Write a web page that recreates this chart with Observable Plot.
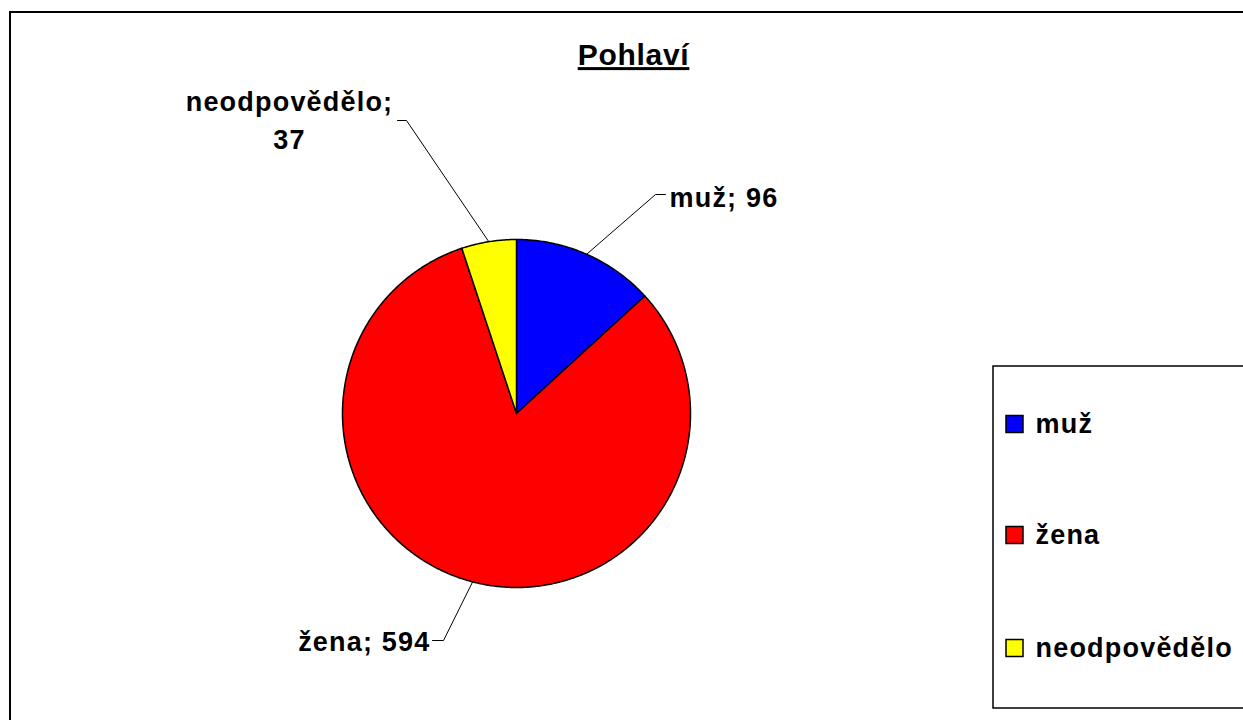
<!DOCTYPE html>
<html><head><meta charset="utf-8">
<script src="https://cdn.jsdelivr.net/npm/d3@7"></script>
<script src="https://cdn.jsdelivr.net/npm/@observablehq/plot@0.6"></script>
<style>html,body{margin:0;padding:0;background:#fff;overflow:hidden}</style>
</head><body><div id="chart"></div>
<script>
// ---- data ----
const title = "Pohlaví";
const categories = ["muž", "žena", "neodpovědělo"];
const counts = [96, 594, 37];
const colors = ["#0000ff", "#ff0000", "#ffff00"];

// ---- layout (pixels) ----
const W = 1243, H = 720;
const FONT = "Arial, 'Liberation Sans', Helvetica, sans-serif";
const pieLayout = {cx: 516, cy: 413, r: 174};
const border = {x1: 10, y1: 12, x2: W + 40, y2: H + 40};
const titlePos = {x: 633, y: 55, size: 30};
const labelLayout = {
  "muž": {elbow: [655, 194], end: [665, 194], text: [669, 194], anchor: "start"},
  "žena": {elbow: [443, 640], end: [432, 640], text: [430, 638], anchor: "end"},
  "neodpovědělo": {elbow: [406, 120], end: [397, 120], text: [289, 117], anchor: "middle"}
};
const legendLayout = {x1: 993, y1: 366, x2: W + 40, y2: 708, swatchX: 1006, size: 17, textX: 1035, rows: [424, 535, 648]};
const LABEL_SIZE = 27;

// ---- derived geometry ----
const data = categories.map((c, i) => ({category: c, value: counts[i]}));
const arcs = d3.pie().sort(null).value(d => d.value)(data);
const polar = (a, rr = pieLayout.r) => [pieLayout.cx + rr * Math.sin(a), pieLayout.cy - rr * Math.cos(a)];

const slicePts = arcs.flatMap(a => {
  const c = a.data.category;
  const n = Math.max(2, Math.ceil((a.endAngle - a.startAngle) / (Math.PI / 360)));
  const pts = [{category: c, x: pieLayout.cx, y: pieLayout.cy}];
  for (let k = 0; k <= n; k++) {
    const t = a.startAngle + (a.endAngle - a.startAngle) * k / n;
    const [x, y] = polar(t);
    pts.push({category: c, x, y});
  }
  return pts;
});

const leaderPts = arcs.flatMap(a => {
  const c = a.data.category, L = labelLayout[c];
  const [mx, my] = polar((a.startAngle + a.endAngle) / 2);
  return [
    {category: c, x: mx, y: my},
    {category: c, x: L.elbow[0], y: L.elbow[1]},
    {category: c, x: L.end[0], y: L.end[1]}
  ];
});

const labelText = d => d.category === "neodpovědělo" ? `${d.category};\n${d.value}` : `${d.category}; ${d.value}`;
const labelMarks = ["start", "middle", "end"].map(anchor =>
  Plot.text(data.filter(d => labelLayout[d.category].anchor === anchor), {
    x: d => labelLayout[d.category].text[0],
    y: d => labelLayout[d.category].text[1],
    text: labelText,
    textAnchor: anchor,
    lineHeight: 1.44,
    fontSize: LABEL_SIZE,
    fontWeight: "bold",
    fontFamily: FONT,
    fill: "black"
  })
);

const plot = Plot.plot({
  width: W, height: H, margin: 0,
  x: {type: "identity", axis: null},
  y: {type: "identity", axis: null},
  color: {domain: categories, range: colors},
  style: {background: "#fff", overflow: "hidden", fontFamily: FONT},
  marks: [
    Plot.rect([border], {x1: d => d.x1, x2: d => d.x2, y1: d => d.y1, y2: d => d.y2, fill: "white", stroke: "black", strokeWidth: 2}),
    Plot.line(slicePts, {x: "x", y: "y", z: "category", fill: "category", stroke: "black", strokeWidth: 1.5, curve: "linear-closed", strokeLinejoin: "round"}),
    Plot.line(leaderPts, {x: "x", y: "y", z: "category", stroke: "black", strokeWidth: 1}),
    ...labelMarks,
    Plot.text([title], {x: () => titlePos.x, y: () => titlePos.y, text: d => d, fontSize: titlePos.size, fontWeight: "bold", fontFamily: FONT, fill: "black"}),
    Plot.rect([legendLayout], {x1: d => d.x1, x2: d => d.x2, y1: d => d.y1, y2: d => d.y2, fill: "white", stroke: "black", strokeWidth: 1.5}),
    Plot.rect(categories, {
      x1: () => legendLayout.swatchX, x2: () => legendLayout.swatchX + legendLayout.size,
      y1: (d, i) => legendLayout.rows[i] - legendLayout.size / 2, y2: (d, i) => legendLayout.rows[i] + legendLayout.size / 2,
      fill: d => d, stroke: "black", strokeWidth: 1.5
    }),
    Plot.text(categories, {
      x: () => legendLayout.textX, y: (d, i) => legendLayout.rows[i], text: d => d,
      textAnchor: "start", fontSize: LABEL_SIZE, fontWeight: "bold", fontFamily: FONT, fill: "black"
    })
  ]
});
document.getElementById("chart").appendChild(plot);
const svg = d3.select(plot);
svg.selectAll("text").attr("letter-spacing", "1.2px");
svg.selectAll("text").filter(function () { return this.textContent === title; })
  .attr("letter-spacing", "0.7px")
  .style("text-decoration", "underline");
</script>
</body></html>
